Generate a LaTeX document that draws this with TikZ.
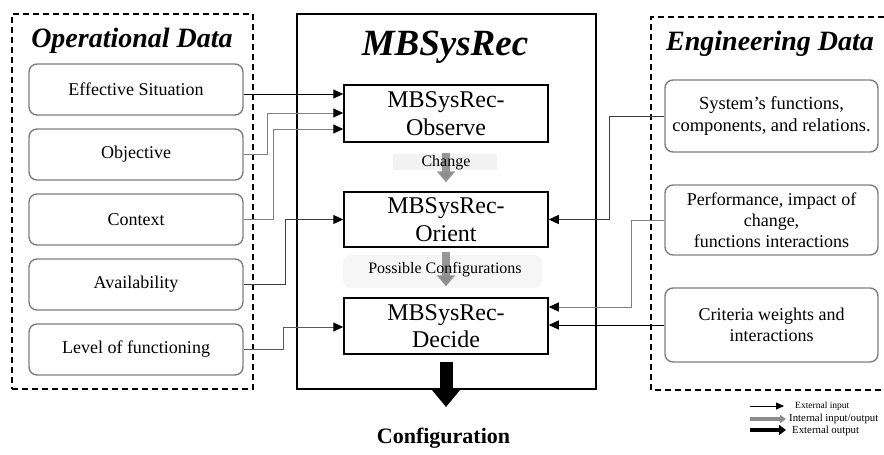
\documentclass[tikz,border=0pt]{standalone}
\usepackage{fontspec}
\setmainfont{Liberation Serif}
\usetikzlibrary{arrows.meta,calc}
\definecolor{boxgray}{HTML}{7F7F7F}
\definecolor{linegray}{HTML}{808080}
\definecolor{intgray}{HTML}{8C8C8C}
\definecolor{lblbg}{HTML}{F2F2F2}
\definecolor{lblbg2}{HTML}{F6F6F6}
\begin{document}
\begin{tikzpicture}[x=1pt,y=-1pt,
  dashbox/.style={draw=black, line width=1.8pt, dash pattern=on 6pt off 4pt},
  databox/.style={draw=boxgray, line width=1.4pt, rounded corners=8pt, minimum width=214pt, inner sep=2pt, align=center, font=\fontsize{18}{21}\selectfont},
  procbox/.style={draw=black, line width=1.5pt, minimum width=204pt, inner sep=0pt, align=center, font=\fontsize{24}{27.5}\selectfont},
  bigtitle/.style={anchor=base, font=\fontsize{28}{30}\bfseries\itshape\selectfont},
  extin/.style={line width=1pt, -{Triangle[length=10pt,width=9pt,color=black,fill=black]}},
  intarrow/.style={draw=intgray, line width=8pt, -{Triangle[length=11pt,width=18pt]}},
  outarrow/.style={draw=black, line width=13pt, -{Triangle[length=17pt,width=27pt]}},
  lbl/.style={font=\fontsize{16}{18}\selectfont, inner sep=0pt}
]
\useasboundingbox (0,0) rectangle (884,455);

% dashed groups
\node[dashbox, minimum width=241pt, minimum height=375pt, inner sep=0pt] (opgroup) at (132.5,201.5) {};
\draw[dashbox] (884,17) -- (651,17) -- (651,390) -- (884,390);
\node[bigtitle] (optitle) at (132,47) {Operational Data};
\node[bigtitle] (engtitle) at (770,50) {Engineering Data};

% central system box
\node[draw=black, line width=1.5pt, minimum width=299pt, minimum height=375pt, inner sep=0pt] (sysbox) at (446.5,201.5) {};
\node[anchor=base, font=\fontsize{37}{40}\bfseries\itshape\selectfont] (systitle) at (445,55) {MBSysRec};

% process boxes
\node[procbox, minimum height=57pt] (obs) at (446,113.5) {MBSysRec-\\Observe};
\node[procbox, minimum height=55pt] (ori) at (446,219.5) {MBSysRec-\\Orient};
\node[procbox, minimum height=56pt] (dec) at (446,326) {MBSysRec-\\Decide};

% operational data boxes
\node[databox, minimum height=51pt] (eff) at (136,89.5) {Effective Situation};
\node[databox, minimum height=51pt] (obj) at (136,154.5) {Objective};
\node[databox, minimum height=51pt] (ctx) at (136,219.5) {Context};
\node[databox, minimum height=51pt] (avl) at (136,284.5) {Availability};
\node[databox, minimum height=51pt] (lvl) at (136,349.5) {Level of functioning};

% engineering data boxes
\node[databox, minimum width=213pt, minimum height=72pt, font=\fontsize{18.5}{22}\selectfont] (sysf) at (771.5,116) {System’s functions,\\components, and relations.};
\node[databox, minimum width=213pt, minimum height=70pt, font=\fontsize{18}{21}\selectfont] (perf) at (771.5,220) {Performance, impact of\\change,\\functions interactions};
\node[databox, minimum width=213pt, minimum height=74pt, font=\fontsize{18}{20.5}\selectfont] (crit) at (771.5,325) {Criteria weights and\\interactions};

% entry points
\coordinate (obs1) at ([yshift=19.5pt]obs.west);
\coordinate (obs2) at ([yshift=0.5pt]obs.west);
\coordinate (obs3) at ([yshift=-15.5pt]obs.west);
\coordinate (dec1) at ([yshift=-1pt]dec.west);
\coordinate (dec2) at ([yshift=19pt]dec.east);

% operational inputs
\draw[extin, draw=black] (eff.east |- obs1) -- (obs1);
\draw[extin, draw=linegray] (obj.east) -- ++(24,0) |- (obs2);
\draw[extin, draw=linegray] (ctx.east) -- ++(30,0) |- (obs3);
\draw[extin, draw=black!75] (avl.east) -- ++(42,0) |- (ori.west);
\draw[extin, draw=black!65] (lvl.east) -- ++(40,0) |- (dec1);

% engineering inputs
\draw[extin, draw=black!75] (sysf.west) -- ++(-55,0) |- (ori.east);
\draw[extin, draw=linegray] (perf.west) -- ++(-33,0) |- (dec2);
\draw[extin, draw=black] (crit.west) -- (crit.west -| dec.east);

% internal flows
\node[fill=lblbg, minimum width=104pt, minimum height=16pt, inner sep=0pt] (chbg) at (445,162) {};
\draw[intarrow, draw opacity=0.9] ([yshift=-10pt]obs.south) -- ([yshift=9pt]ori.north);
\node[lbl] (chlbl) at (446,163) {Change};

\node[fill=lblbg2, rounded corners=8pt, minimum width=199pt, minimum height=33pt, inner sep=0pt] (pcbg) at (442.5,271.5) {};
\draw[intarrow, draw opacity=0.9] ([yshift=-4pt]ori.south) -- ([yshift=11pt]dec.north);
\node[lbl] (pclbl) at (445,270) {Possible Configurations};

% output
\node[anchor=base, font=\fontsize{22}{24}\bfseries\selectfont] (config) at (443.5,443) {Configuration};
\coordinate (outtip) at (446,407);
\draw[outarrow] ([yshift=-7pt]dec.south) -- (outtip);

% legend
\coordinate (l1a) at (750,406); \coordinate (l1b) at (784,406);
\coordinate (l2a) at (750,419); \coordinate (l2b) at (786,419);
\coordinate (l3a) at (750,430); \coordinate (l3b) at (786,430);
\draw[line width=0.8pt, -{Triangle[length=8pt,width=7pt]}] (l1a) -- (l1b);
\draw[draw=intgray, line width=4.5pt, -{Triangle[length=6pt,width=8pt]}] (l2a) -- (l2b);
\draw[draw=black, line width=4.5pt, -{Triangle[length=7pt,width=10pt]}] (l3a) -- (l3b);
\node[anchor=west, inner sep=0pt, font=\fontsize{9.5}{11}\selectfont] (leg1) at (795,406) {External input};
\node[anchor=west, inner sep=0pt, font=\fontsize{10.8}{12}\selectfont] (leg2) at (789,419) {Internal input/output};
\node[anchor=west, inner sep=0pt, font=\fontsize{10.8}{12}\selectfont] (leg3) at (792,431) {External output};
\end{tikzpicture}
\end{document}
